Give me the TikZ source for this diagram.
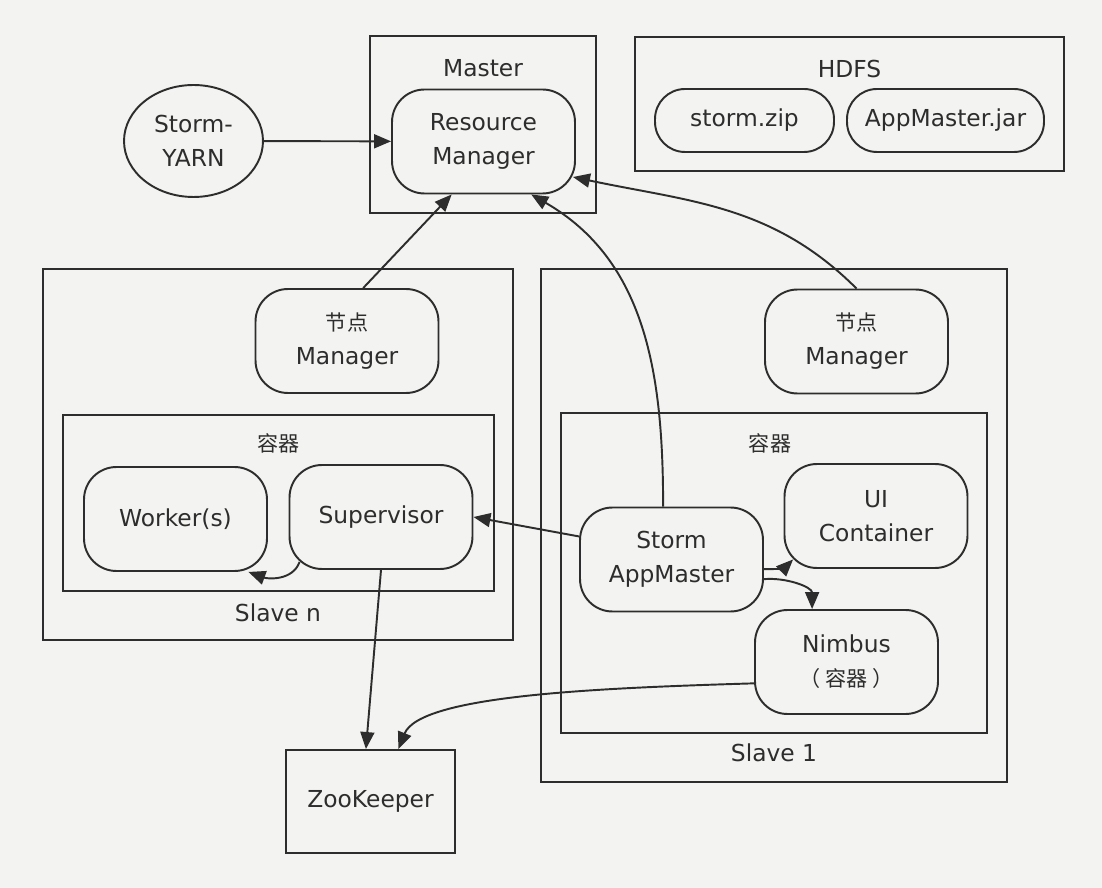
\documentclass[tikz,border=0pt]{standalone}
\usepackage{fontspec}
\setmainfont{DejaVu Sans}
\newfontfamily\cjk{Noto Sans CJK SC}
\usetikzlibrary{arrows.meta}
\usetikzlibrary{shapes.geometric}
\definecolor{paper}{RGB}{243,243,241}
\definecolor{ink}{RGB}{45,45,45}
\newcommand{\zh}[1]{{\cjk\fontsize{12}{19.3}\selectfont #1}}

\begin{document}
\begin{tikzpicture}[x=0.02cm, y=0.02cm,
        every node/.style={font=\fontsize{13.3}{19.3}\selectfont, text=ink},
        box/.style={draw=ink, line width=1.1pt, inner sep=0pt},
        pill/.style={draw=ink, line width=1.1pt, rounded corners=0.65cm, align=center, minimum width=3.66cm, minimum height=2.08cm},
        arr/.style={draw=ink, line width=1.1pt, -{Triangle[length=0.34cm,width=0.28cm]}}]
        \fill[paper] (0,0) rectangle (1102,-888);
        \useasboundingbox (0,0) rectangle (1102,-888);

        % top row
        \node[box, ellipse, align=center, minimum width=2.78cm, minimum height=2.24cm] (yarn) at (193.5,-141) {Storm-\\YARN};
        \node[box, minimum width=4.52cm, minimum height=3.54cm] (master) at (483,-124.5) {};
        \node (masterlbl) at (483,-68) {Master};
        \node[pill] (rm) at (483.5,-141.5) {Resource\\Manager};

        \node[box, minimum width=8.58cm, minimum height=2.68cm] (hdfs) at (849.5,-104) {};
        \node (hdfslbl) at (849.5,-69) {HDFS};
        \node[pill, rounded corners=0.6cm, minimum width=3.58cm, minimum height=1.26cm] (zip) at (744.5,-120.5) {storm.zip};
        \node[pill, rounded corners=0.6cm, minimum width=3.94cm, minimum height=1.26cm] (jar) at (945.5,-120.5) {AppMaster.jar};

        % Slave n
        \node[box, minimum width=9.4cm, minimum height=7.42cm] (slaven) at (278,-454.5) {};
        \node (slavenlbl) at (278,-613) {Slave n};
        \node[pill] (nml) at (347,-341) {\zh{节点}\\Manager};
        \node[box, minimum width=8.62cm, minimum height=3.52cm] (contl) at (278.5,-503) {};
        \node (contllbl) at (278.5,-443) {\zh{容器}};
        \node[pill] (worker) at (175.5,-519) {Worker(s)};
        \node[pill] (sup) at (381,-517) {Supervisor};

        % Slave 1
        \node[box, minimum width=9.32cm, minimum height=10.26cm] (slave1) at (774,-525.5) {};
        \node (slave1lbl) at (774,-753) {Slave 1};
        \node[pill] (nmr) at (856.5,-341.5) {\zh{节点}\\Manager};
        \node[box, minimum width=8.52cm, minimum height=6.4cm] (contr) at (774,-573) {};
        \node (contrlbl) at (770,-443) {\zh{容器}};
        \node[pill] (am) at (671.5,-559.5) {Storm\\AppMaster};
        \node[pill] (ui) at (876,-516) {UI\\Container};
        \node[pill] (nim) at (846.5,-662) {Nimbus\\\zh{（ 容器 ）}};

        \node[box, minimum width=3.38cm, minimum height=2.06cm] (zk) at (370.5,-801.5) {ZooKeeper};

        % connectors
        \draw[arr] (yarn) -- (rm);
        \draw[arr] (nml.73) -- (rm.239);
        \draw[arr] (am.99) to[out=90, in=-30] (rm.-48);
        \draw[arr] (nmr.north) to[out=135, in=-12] ([shift={(-3,0)}]rm.-21);
        \draw[arr] (am.166) -- (sup.east);
        \draw[arr] ([shift={(11,8)}]sup.south west) to[out=-110, in=-20] (worker.-36);
        \draw[arr] (am.-6) to[out=0, in=225] ([shift={(9.5,9.5)}]ui.south west);
        \draw[arr] (am.-12) to[out=5, in=90] (nim.123);
        \draw[arr] (sup.south) -- (zk.95);
        \draw[arr] (nim.193) .. controls (600,-688) and (420,-695) .. (zk.62);
    \end{tikzpicture}
\end{document}
